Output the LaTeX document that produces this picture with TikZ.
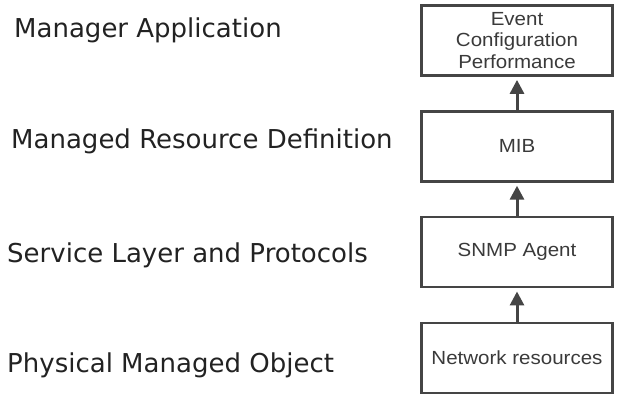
\documentclass[tikz,border=0pt]{standalone}
\usepackage{fontspec}
\setmainfont{DejaVu Sans}
\newfontfamily\boxfont[FakeStretch=1.08]{Liberation Sans}
\usetikzlibrary{arrows.meta, positioning}
\definecolor{boxline}{HTML}{454545}
\definecolor{boxtext}{HTML}{3A3A3A}
\definecolor{lbltext}{HTML}{222222}

\begin{document}
\begin{tikzpicture}[x=1pt, y=1pt,
      layer/.style={draw=boxline, line width=2.8pt, minimum width=191pt, minimum height=70pt,
                    inner sep=0pt, align=center, text=boxtext, font=\boxfont\fontsize{19}{21.5}\selectfont},
      lvl/.style={anchor=base west, inner sep=0pt, text=lbltext, font=\fontsize{26}{30}\selectfont},
      arr/.style={-{Triangle[length=14pt, width=14pt]}, line width=3pt, draw=boxline, shorten >=3pt}
    ]
    \useasboundingbox (0,0) rectangle (621,-395);
    \node[layer] (app) at (517,-40.5) {Event\\Configuration\\Performance};
    \node[layer, below=33pt of app] (mib) {MIB};
    \node[layer, below=33pt of mib] (agent) {SNMP Agent};
    \node[layer, below=33pt of agent] (res) {Network resources};
    \draw[arr] (mib) -- (app);
    \draw[arr] (agent) -- (mib);
    \draw[arr] (res) -- (agent);
    % layer names on the left
    \node[lvl] (lmgr) at (14,-38) {Manager Application};
    \node[lvl] (ldef) at (11,-149) {Managed Resource Definition};
    \node[lvl] (lsvc) at (7,-263) {Service Layer and Protocols};
    \node[lvl] (lphy) at (7,-372) {Physical Managed Object};
  \end{tikzpicture}
\end{document}
